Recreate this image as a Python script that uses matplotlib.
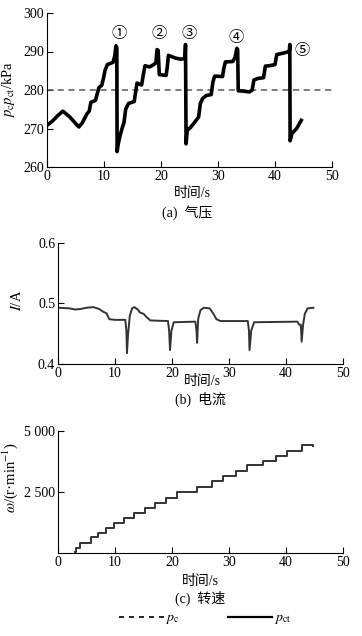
import matplotlib
matplotlib.use('Agg')
import matplotlib.pyplot as plt
from matplotlib.lines import Line2D

plt.rcParams['font.family'] = ['Liberation Serif', 'Noto Sans CJK SC']
plt.rcParams['mathtext.fontset'] = 'stix'
plt.rcParams['font.size'] = 10

# (a) pressure p_ct
t_p = [0, 1, 2, 2.8, 4, 5.2, 5.6, 6.2, 7.0, 7.4, 7.7, 8.5, 8.9, 9.1, 9.6, 9.9, 10.2,
       10.6, 11.6, 11.9, 12.1, 12.25, 12.3, 12.5, 12.8, 13.2, 13.5, 13.8, 14.3, 15.3,
       15.6, 15.8, 16.6, 16.9, 17.2, 18.0, 18.6, 19.1, 19.3, 19.5, 19.7, 20.9, 21.1,
       21.3, 22.5, 23.5, 24.2, 24.3, 24.4, 24.6, 25.2, 26.0, 26.6, 26.9, 27.3, 28.0,
       28.8, 29.1, 29.4, 30.8, 31.0, 31.3, 32.6, 33.0, 33.3, 33.45, 33.55, 34.5, 35.5,
       36.0, 36.3, 37.0, 38.0, 38.3, 39.0, 40.0, 40.3, 41.5, 42.5, 42.6, 42.65, 43.0,
       43.8, 44.6]
p_ct = [270.8, 272.0, 273.5, 274.5, 273.0, 271.0, 270.4, 271.5, 273.8, 274.5, 276.8,
        277.3, 279.5, 280.6, 281.2, 283.0, 285.2, 286.6, 287.2, 289.0, 291.5, 291.0,
        264.0, 266.0, 268.0, 270.2, 271.5, 275.0, 276.5, 277.0, 280.0, 281.8, 281.3,
        284.0, 286.3, 286.0, 286.5, 287.0, 290.5, 290.3, 284.0, 283.8, 286.0, 289.0,
        288.3, 288.0, 288.2, 291.8, 266.0, 269.5, 270.3, 271.8, 273.0, 276.5, 277.8,
        278.6, 278.8, 282.0, 283.6, 283.5, 285.5, 287.3, 287.4, 288.5, 290.8, 290.5,
        279.8, 279.7, 279.5, 280.0, 282.6, 283.0, 283.2, 286.2, 286.3, 286.6, 289.2,
        289.6, 290.0, 291.8, 266.8, 268.8, 270.0, 272.1]
p_c = 280
marks = ['①', '②', '③', '④', '⑤']
mark_t = [12.7, 19.6, 24.9, 33.2, 44.7]
mark_p = [294.6, 294.6, 294.6, 293.6, 290.1]

# (b) current
t_i = [0, 2, 3, 4, 5, 6.2, 7.2, 8.0, 8.5, 9.0, 10, 11.8, 12.0, 12.1, 12.3, 12.6, 13.0,
       13.4, 14.0, 14.4, 15.0, 15.5, 16.2, 19.3, 19.5, 19.65, 19.9, 20.3, 24.1, 24.3,
       24.4, 24.6, 25.0, 25.6, 26.6, 27.2, 27.8, 28.5, 33.3, 33.5, 33.6, 33.9, 34.4,
       42.0, 42.3, 42.6, 42.75, 43.0, 43.3, 43.8, 44.8]
cur = [0.493, 0.492, 0.490, 0.491, 0.493, 0.494, 0.491, 0.486, 0.484, 0.474, 0.473,
       0.473, 0.455, 0.418, 0.450, 0.480, 0.492, 0.494, 0.490, 0.485, 0.483, 0.478,
       0.472, 0.471, 0.455, 0.423, 0.455, 0.469, 0.470, 0.455, 0.435, 0.475, 0.489,
       0.493, 0.492, 0.484, 0.474, 0.471, 0.471, 0.455, 0.423, 0.455, 0.469, 0.470,
       0.465, 0.465, 0.437, 0.465, 0.483, 0.492, 0.493]

# (c) speed staircase
t_w = [2.9, 3.1, 3.9, 5.8, 7.0, 8.4, 9.9, 11.6, 13.4, 15.3, 17.0, 18.9, 20.8, 24.3,
       27.0, 29.0, 31.3, 33.2, 36.0, 38.3, 40.2, 42.8, 44.7]
speed = [50, 200, 420, 640, 830, 1040, 1240, 1420, 1650, 1830, 2040, 2240, 2480, 2720,
         2940, 3160, 3370, 3590, 3790, 3990, 4190, 4430, 4390]

W, H = 362, 636
fig = plt.figure(figsize=(W / 100, H / 100), dpi=100)


def axes_px(left, top, right, bottom):
    return fig.add_axes([left / W, 1 - bottom / H, (right - left) / W, (bottom - top) / H])


def style(ax):
    ax.spines['top'].set_visible(False)
    ax.spines['right'].set_visible(False)
    ax.tick_params(direction='in', length=4, width=0.8, labelsize=10, pad=2)
    ax.set_xlim(0, 50)
    ax.set_xticks([0, 10, 20, 30, 40, 50])


# (a)
ax1 = axes_px(47, 13, 332, 167)
style(ax1)
ax1.axhline(p_c, color='0.35', lw=1.1, dashes=(4, 3))
ax1.plot(t_p, p_ct, color='black', lw=2.6, solid_joinstyle='round')
for m, x, y in zip(marks, mark_t, mark_p):
    ax1.text(x, y, m, ha='center', va='center', fontsize=11)
ax1.set_ylim(260, 300)
ax1.set_yticks([260, 270, 280, 290, 300])
ax1.set_ylabel(r'$p_{\mathrm{c}}p_{\mathrm{ct}}$/kPa', fontsize=10.5)
ax1.yaxis.set_label_coords(-0.105, 0.5)
fig.text(192 / W, 1 - 193 / H, '时间/s', ha='center', va='center')
fig.text(187 / W, 1 - 213 / H, '(a)  气压', ha='center', va='center')

# (b)
ax2 = axes_px(58, 243, 343, 364)
style(ax2)
ax2.plot(t_i, cur, color='0.2', lw=1.4)
ax2.set_ylim(0.4, 0.6)
ax2.set_yticks([0.4, 0.5, 0.6])
ax2.set_ylabel(r'$I$/A', fontsize=10.5)
ax2.yaxis.set_label_coords(-0.12, 0.53)
fig.text(202 / W, 1 - 382 / H, '时间/s', ha='center', va='center')
fig.text(200 / W, 1 - 399 / H, '(b)  电流', ha='center', va='center')

# (c)
ax3 = axes_px(58, 431, 343, 553)
style(ax3)
ax3.plot(t_w, speed, color='0.2', lw=1.4, drawstyle='steps-post')
ax3.set_ylim(0, 5000)
ax3.set_yticks([2500, 5000])
ax3.set_yticklabels(['2 500', '5 000'])
ax3.set_ylabel(r'$\omega$/(r·min$^{-1}$)', fontsize=10.5)
ax3.yaxis.set_label_coords(-0.135, 0.62)
fig.text(200 / W, 1 - 581 / H, '时间/s', ha='center', va='center')
fig.text(200 / W, 1 - 598 / H, '(c)  转速', ha='center', va='center')

handles = [Line2D([], [], color='black', lw=1.2, dashes=(3, 3)),
           Line2D([], [], color='black', lw=1.6)]
fig.legend(handles, [r'$p_{\mathrm{c}}$', r'$p_{\mathrm{ct}}$'], loc='center',
           bbox_to_anchor=(205 / W, 1 - 619 / H), ncol=2, frameon=False,
           handlelength=3.2, columnspacing=3.5, handletextpad=0.1, fontsize=10)

fig.savefig('out.png', dpi=100)
